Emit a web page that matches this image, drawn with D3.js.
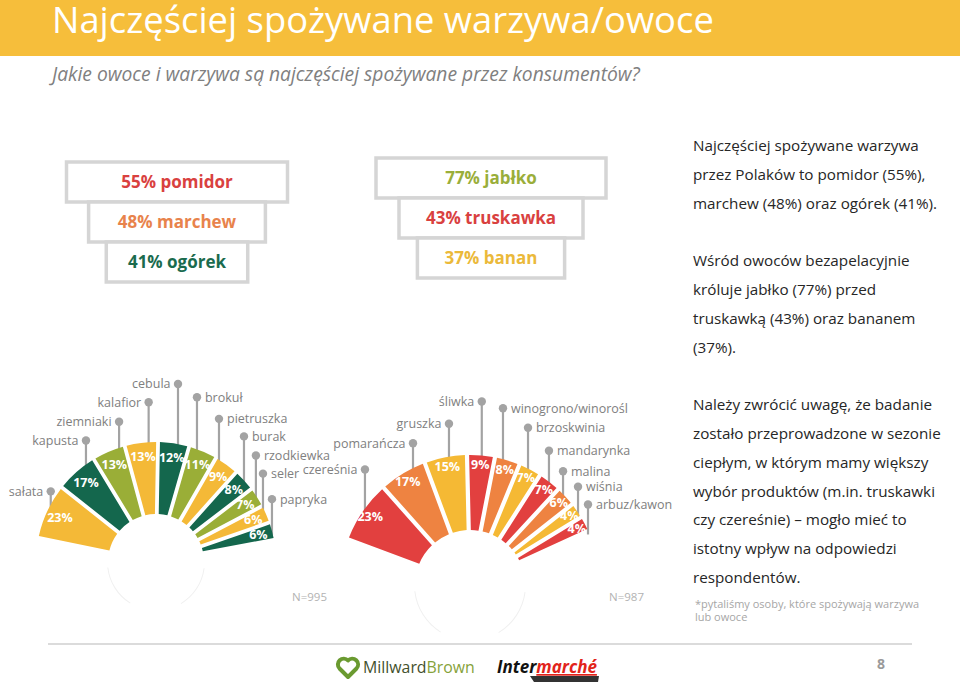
<!DOCTYPE html>
<html><head><meta charset="utf-8">
<script src="https://cdn.jsdelivr.net/npm/d3@7"></script>
<style>
body{margin:0;background:#fff}
svg{display:block}
text{font-family:"Open Sans","Noto Sans",sans-serif}
</style>
</head><body>
<svg id="c" width="960" height="692"></svg>
<script>
// ---------------- DATA ----------------
const vegCategories = ["sałata","kapusta","ziemniaki","kalafior","cebula","brokuł","pietruszka","burak","rzodkiewka","seler","papryka"];
const vegValues = [23,17,13,13,12,11,9,8,7,6,6];
const fruitCategories = ["czereśnia","pomarańcza","gruszka","śliwka","winogrono/winorośl","brzoskwinia","mandarynka","malina","wiśnia","arbuz/kawon"];
const fruitValues = [23,17,15,9,8,7,7,6,4,4];
const topVegNames = ["pomidor","marchew","ogórek"];
const topVegValues = [55,48,41];
const topFruitNames = ["jabłko","truskawka","banan"];
const topFruitValues = [77,43,37];
const sampleSizes = [995,987];

// ---------------- LAYOUT / STYLE ----------------
// leader line length (px above the wedge) and angular nudge (deg) of each label
const vegLeaderLen = [13,24,26,40,60,52,41,44,40,34,32];
const vegLeaderNudge = [3.7,5.7,5.25,3.55,2.07,-3.02,-4.21,0,-1.0,-3.44,0];
const fruitLeaderLen = [39,25,33,54,51,41,31,23,26,26];
const fruitLeaderNudge = [1.65,4.97,1.53,0.33,-2.0,-0.91,-0.18,-1.49,1.06,3.22];
const vegPalette = ["#F4B937","#14674D","#9AAE37"];
const fruitPalette = ["#E2403F","#EE8341","#F5B934"];
const gray = "#a3a3a3";

const svg = d3.select("#c");

function fitWidth(sel, w){
  const len = sel.node().getComputedTextLength();
  const fs = parseFloat(sel.style("font-size"));
  sel.style("font-size", (fs*w/len)+"px");
}

// header
svg.append("rect").attr("x",0).attr("y",0).attr("width",960).attr("height",56).attr("fill","#F6BE3B");
const title = svg.append("text").attr("x",52).attr("y",33).attr("fill","#fff")
  .style("font-size","33px").text("Najczęściej spożywane warzywa/owoce");
fitWidth(title, 662);
const sub = svg.append("text").attr("x",52).attr("y",81).attr("fill","#808080")
  .style("font-size","17px").style("font-style","italic")
  .text("Jakie owoce i warzywa są najczęściej spożywane przez konsumentów?");
fitWidth(sub, 588);

// top-3 boxes
function drawBoxes(cx, y0, W0, names, values, colors){
  const g = svg.append("g");
  const wScale = i => W0*Math.pow(0.8, i);
  names.forEach((n,i)=>{
    const w = wScale(i);
    g.append("rect").attr("x",cx-w/2).attr("y",y0+i*40).attr("width",w).attr("height",40)
      .attr("fill","#fff").attr("stroke","#d5d5d5").attr("stroke-width",3.5);
  });
  names.forEach((n,i)=>{
    g.append("text").attr("x",cx).attr("y",y0+i*40+20).attr("dy","0.36em")
      .attr("text-anchor","middle").attr("fill",colors[i])
      .style("font-size","17px").style("font-weight","700")
      .text(values[i]+"% "+n);
  });
}
drawBoxes(177, 162, 221, topVegNames, topVegValues, ["#D9413F","#E8834C","#1A6B4E"]);
drawBoxes(491, 158, 230, topFruitNames, topFruitValues, ["#9AAE3A","#D9413F","#EBB93A"]);

// fans
function drawFan(cats, vals, palette, o){
  const g = svg.append("g").attr("transform",`translate(${o.cx},${o.cy})`);
  const deg = Math.PI/180;
  const pie = d3.pie().sort(null).value(d=>d).startAngle(o.start*deg).endAngle(o.end*deg).padAngle(o.pad);
  const arcs = pie(vals);
  const arc = d3.arc().innerRadius(o.r0).outerRadius(o.r1).padRadius(100);
  const color = d3.scaleOrdinal().domain(d3.range(vals.length)).range(palette);
  // faint inner circle edges
  const ring = d3.arc().innerRadius(o.r0).outerRadius(o.r0+1);
  g.append("path").attr("d", ring({startAngle:1.7,endAngle:2.6})).attr("fill","#f0f0f0");
  g.append("path").attr("d", ring({startAngle:3.7,endAngle:4.6})).attr("fill","#f0f0f0");
  // leaders
  arcs.forEach((a,i)=>{
    const mid = (a.startAngle+a.endAngle)/2 + o.nudge[i]*deg;
    const x = o.r1*Math.sin(mid);
    const yArc = -Math.sqrt(o.r1*o.r1 - x*x);
    const yTop = yArc - o.leader[i];
    g.append("line").attr("x1",x).attr("x2",x).attr("y1",yArc+4).attr("y2",yTop)
      .attr("stroke",gray).attr("stroke-width",2.2);
    g.append("circle").attr("cx",x).attr("cy",yTop).attr("r",4.2).attr("fill",gray);
    const left = i < o.split;
    g.append("text").attr("x", left ? x-7.5 : x+8).attr("y",yTop).attr("dy","0.35em")
      .attr("text-anchor", left ? "end" : "start").attr("fill","#808080")
      .style("font-size","12.5px").text(cats[i]);
  });
  g.selectAll("path.w").data(arcs).enter().append("path").attr("class","w")
    .attr("d",arc).attr("fill",(d,i)=>color(i));
  arcs.forEach((a,i)=>{
    const mid = (a.startAngle+a.endAngle)/2;
    g.append("text").attr("x",o.lr*Math.sin(mid)).attr("y",-o.lr*Math.cos(mid)).attr("dy","0.36em")
      .attr("text-anchor","middle").attr("fill","#fff")
      .style("font-size","12.5px").style("font-weight","700").text(vals[i]+"%");
  });
  svg.append("text").attr("x",o.nx).attr("y",601).attr("fill","#b3b3b3")
    .style("font-size","11.5px").text("N="+o.n);
}
drawFan(vegCategories, vegValues, vegPalette,
  {cx:156, cy:562, r0:48, r1:120, lr:106, start:-78.4, end:79.4, pad:0.038,
   leader:vegLeaderLen, nudge:vegLeaderNudge, split:5, nx:292, n:sampleSizes[0]});
drawFan(fruitCategories, fruitValues, fruitPalette,
  {cx:470, cy:585, r0:55, r1:130, lr:121, start:-69.5, end:65.4, pad:0.042,
   leader:fruitLeaderLen, nudge:fruitLeaderNudge, split:4, nx:609, n:sampleSizes[1]});

// right-hand text
const bodyLines = [
  "Najczęściej spożywane warzywa",
  "przez Polaków to pomidor (55%),",
  "marchew (48%) oraz ogórek (41%).",
  "",
  "Wśród owoców bezapelacyjnie",
  "króluje jabłko (77%) przed",
  "truskawką (43%) oraz bananem",
  "(37%).",
  "",
  "Należy zwrócić uwagę, że badanie",
  "zostało przeprowadzone w sezonie",
  "ciepłym, w którym mamy większy",
  "wybór produktów (m.in. truskawki",
  "czy czereśnie) – mogło mieć to",
  "istotny wpływ na odpowiedzi",
  "respondentów."
];
const probe = svg.append("text").style("font-size","15px").text(bodyLines[10]);
fitWidth(probe, 248);
const bodySize = probe.style("font-size");
probe.remove();
bodyLines.forEach((l,i)=>{
  if(!l) return;
  svg.append("text").attr("x",693).attr("y",151+i*28.8).attr("fill","#262626")
    .style("font-size",bodySize).text(l);
});
svg.append("text").attr("x",695).attr("y",608).attr("fill","#a6a6a6").style("font-size","11px")
  .text("*pytaliśmy osoby, które spożywają warzywa");
svg.append("text").attr("x",695).attr("y",621).attr("fill","#a6a6a6").style("font-size","11px")
  .text("lub owoce");

// footer
svg.append("line").attr("x1",48).attr("x2",912).attr("y1",644).attr("y2",644).attr("stroke","#cfcfcf").attr("stroke-width",1.5);
svg.append("path").attr("d","M348,677 L339.5,668.5 A5.6,5.6 0 0 1 348,660.5 A5.6,5.6 0 0 1 356.5,668.5 Z")
  .attr("fill","none").attr("stroke","#6a9a30").attr("stroke-width",4).attr("stroke-linejoin","round");
const mb = svg.append("text").attr("x",363).attr("y",673).style("font-size","17px");
mb.append("tspan").attr("fill","#43502c").text("Millward");
mb.append("tspan").attr("fill","#86a23a").text("Brown");
fitWidth(mb, 112);
svg.append("path").attr("d","M530,676 L599,676 L598,682 L534,682 Z").attr("fill","#333");
const im = svg.append("text").attr("x",497).attr("y",673).style("font-size","16px")
  .style("font-weight","700").style("font-style","italic");
im.append("tspan").attr("fill","#111").text("Inter");
im.append("tspan").attr("fill","#e2231a").attr("text-decoration","underline").text("marché");
fitWidth(im, 100);
svg.append("text").attr("x",881).attr("y",669).attr("text-anchor","middle").attr("fill","#9a9a9a")
  .style("font-size","14px").style("font-weight","700").text("8");
</script>
</body></html>
